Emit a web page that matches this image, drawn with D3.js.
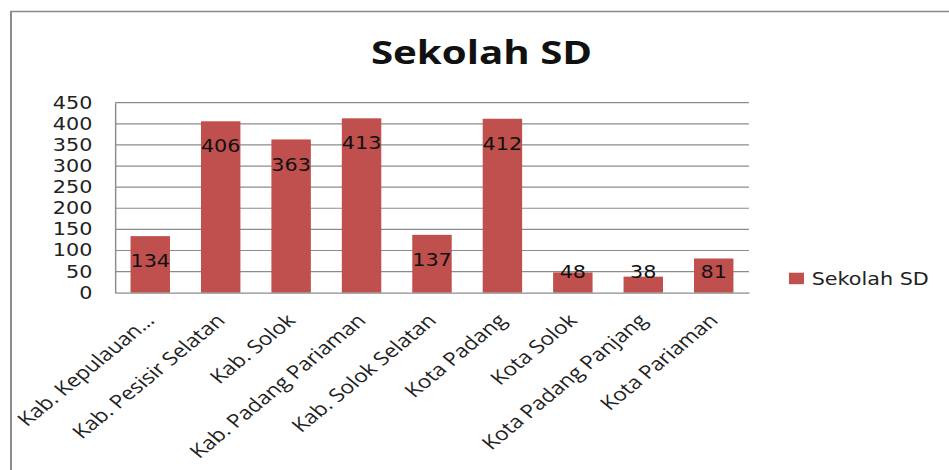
<!DOCTYPE html>
<html>
<head>
<meta charset="utf-8">
<script src="https://cdn.jsdelivr.net/npm/d3@7"></script>
<style>
  body { margin: 0; background: #fff; }
  svg { display: block; }
</style>
</head>
<body>
<svg id="chart"></svg>
<script>
var categories = ["Kab. Kepulauan…", "Kab. Pesisir Selatan", "Kab. Solok", "Kab. Padang Pariaman",
                  "Kab. Solok Selatan", "Kota Padang", "Kota Solok", "Kota Padang Panjang", "Kota Pariaman"]
var values = [134, 406, 363, 413, 137, 412, 48, 38, 81]
var yTicks = [0, 50, 100, 150, 200, 250, 300, 350, 400, 450]
var seriesName = "Sekolah SD"
var title = "Sekolah SD"

// the picture is stretched sideways, so draw narrower and let the viewBox stretch it
var stretch = 1.22
var dimensions = {
    width: 949,
    height: 470,
    margin: { top: 102.7, bottom: 177.3, left: 94.3, right: 164 }
}
var innerW = dimensions.width / stretch

var svg = d3.select("#chart")
            .attr("width", dimensions.width)
            .attr("height", dimensions.height)
            .attr("viewBox", `0 0 ${innerW} ${dimensions.height}`)
            .attr("preserveAspectRatio", "none")

var xScale = d3.scaleBand()
               .domain(categories)
               .range([dimensions.margin.left, innerW - dimensions.margin.right])
               .paddingInner(0.44)
               .paddingOuter(0.22)

var yScale = d3.scaleLinear()
               .domain([0, 450])
               .range([dimensions.height - dimensions.margin.bottom, dimensions.margin.top])

// outer chart border
svg.append("path")
   .attr("d", `M9,${dimensions.height + 2} V11.5 H${innerW + 2}`)
   .attr("fill", "none")
   .attr("stroke", "#8a8a8a")
   .attr("stroke-width", 1.6)

svg.append("text")
   .attr("x", 394.7)
   .attr("y", 64.3)
   .attr("text-anchor", "middle")
   .style("font-family", "'Open Sans'")
   .style("font-weight", "bold")
   .style("font-size", "33px")
   .style("fill", "#111")
   .text(title)

// gridlines
svg.append("g")
   .selectAll("line")
   .data(yTicks.filter(d => d > 0))
   .enter()
   .append("line")
   .attr("x1", dimensions.margin.left)
   .attr("x2", innerW - dimensions.margin.right)
   .attr("y1", d => yScale(d))
   .attr("y2", d => yScale(d))
   .attr("stroke", "#8c8c8c")
   .attr("stroke-width", 1.2)

var yAxisGen = d3.axisLeft(yScale).tickValues(yTicks).tickSize(0).tickPadding(18.6)
var yAxis = svg.append("g")
               .attr("transform", `translate(${dimensions.margin.left},0)`)
               .call(yAxisGen)
yAxis.select(".domain").attr("stroke", "#8c8c8c").attr("stroke-width", 1.2)
yAxis.selectAll("text")
     .style("font-family", "'DejaVu Sans'")
     .style("font-size", "17px")
     .style("fill", "#222")

var bars = svg.append("g")
              .selectAll("rect")
              .data(values)
              .enter()
              .append("rect")
              .attr("x", (d, i) => xScale(categories[i]))
              .attr("y", d => yScale(d))
              .attr("width", xScale.bandwidth())
              .attr("height", d => yScale(0) - yScale(d))
              .attr("fill", "#c0504d")

var xAxisGen = d3.axisBottom(xScale).tickSize(0).tickFormat("")
var xAxis = svg.append("g")
               .attr("transform", `translate(0,${yScale(0)})`)
               .call(xAxisGen)
xAxis.select(".domain").attr("stroke", "#8c8c8c").attr("stroke-width", 1.2)

// data labels inside the bar ends
svg.append("g")
   .selectAll("text")
   .data(values)
   .enter()
   .append("text")
   .attr("x", (d, i) => xScale(categories[i]) + xScale.bandwidth() / 2)
   .attr("y", d => Math.min(yScale(d) + 25, yScale(0) - 21))
   .attr("dy", "0.36em")
   .attr("text-anchor", "middle")
   .style("font-family", "'DejaVu Sans'")
   .style("font-size", "17px")
   .style("fill", "#111")
   .text(d => d)

// rotated category labels
svg.append("g")
   .selectAll("text")
   .data(categories)
   .enter()
   .append("text")
   .attr("transform", d => `translate(${xScale(d) + xScale.bandwidth() / 2 + 4.5},${yScale(0) + 29}) rotate(-45)`)
   .attr("text-anchor", "end")
   .style("font-family", "'Open Sans'")
   .style("font-size", "18.5px")
   .style("fill", "#222")
   .text(d => d)

// legend
var legend = svg.append("g").attr("transform", "translate(646.7,272.7)")
legend.append("rect")
      .attr("width", 12.3)
      .attr("height", 11.5)
      .attr("fill", "#c0504d")
legend.append("text")
      .attr("x", 18.6)
      .attr("y", 12.3)
      .style("font-family", "'DejaVu Sans'")
      .style("font-size", "17px")
      .style("fill", "#222")
      .text(seriesName)
</script>
</body>
</html>
